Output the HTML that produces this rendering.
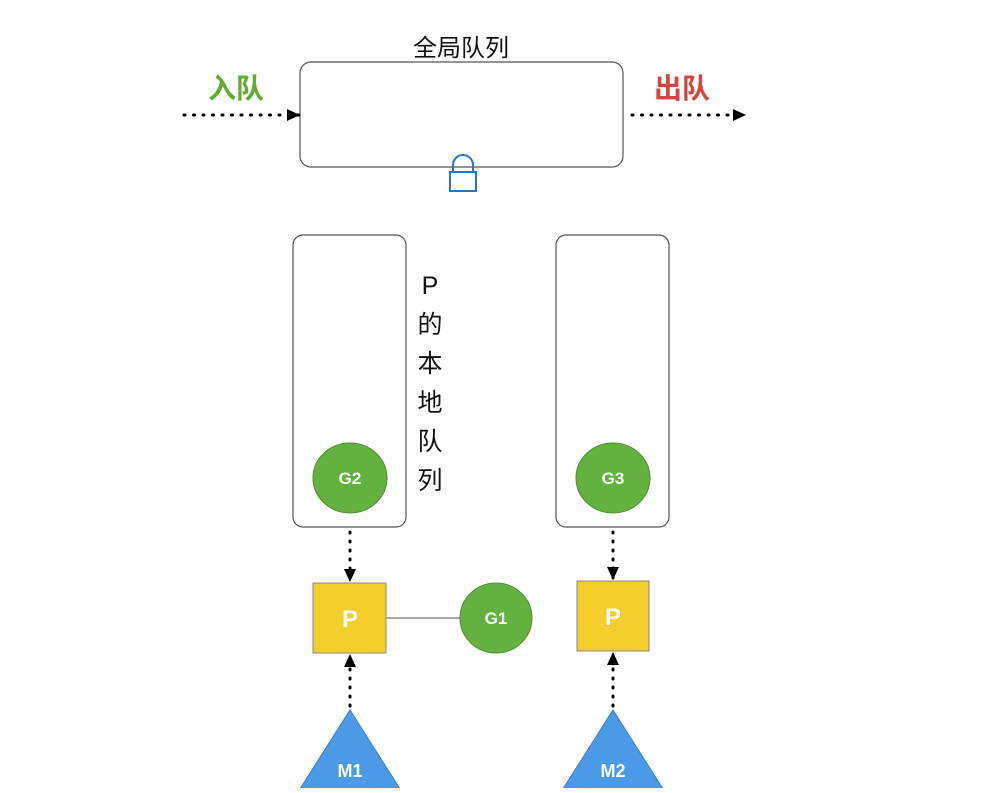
<!DOCTYPE html>
<html><head><meta charset="utf-8"><style>
body{margin:0;background:#fff;width:999px;height:788px;overflow:hidden}
svg text{font-family:"Liberation Sans","Noto Sans CJK SC",sans-serif}
</style></head><body>
<svg width="999" height="788" viewBox="0 0 999 788" xmlns="http://www.w3.org/2000/svg">
<defs>
<marker id="a" markerWidth="14" markerHeight="14" refX="12" refY="7" orient="auto" markerUnits="userSpaceOnUse"><path d="M0,1 L13,7 L0,13 z" fill="#000"/></marker>
</defs>
<text x="461" y="56" font-size="24" text-anchor="middle" fill="#111">全局队列</text>
<text x="236" y="98" font-size="28" font-weight="bold" text-anchor="middle" fill="#5fae2f">入队</text>
<text x="682" y="98" font-size="28" font-weight="bold" text-anchor="middle" fill="#d9433f">出队</text>
<rect x="300" y="62" width="323" height="105" rx="11" fill="#fff" stroke="#555" stroke-width="1.2"/>
<line x1="184" y1="115" x2="299" y2="115" stroke="#000" stroke-width="3" stroke-dasharray="1,8.5" stroke-linecap="round" marker-end="url(#a)"/>
<line x1="632" y1="115" x2="745" y2="115" stroke="#000" stroke-width="3" stroke-dasharray="1,8.5" stroke-linecap="round" marker-end="url(#a)"/>
<path d="M453,172 V165 A10,10 0 0 1 473,165 V172" fill="none" stroke="#1f77d0" stroke-width="2"/>
<rect x="450" y="172" width="26" height="19" fill="#fff" stroke="#1f77d0" stroke-width="2"/>
<rect x="293" y="235" width="113" height="292" rx="10" fill="#fff" stroke="#555" stroke-width="1.2"/>
<rect x="556" y="235" width="113" height="292" rx="10" fill="#fff" stroke="#555" stroke-width="1.2"/>
<g font-size="25" fill="#111" text-anchor="middle">
<text x="430" y="294">P</text><text x="430" y="333">的</text><text x="430" y="372">本</text><text x="430" y="411">地</text><text x="430" y="450">队</text><text x="430" y="489">列</text>
</g>
<ellipse cx="350" cy="478" rx="37" ry="35" fill="#63b23f" stroke="#4f8f33"/>
<ellipse cx="613" cy="478" rx="37" ry="35" fill="#63b23f" stroke="#4f8f33"/>
<ellipse cx="496" cy="618" rx="36" ry="35" fill="#63b23f" stroke="#4f8f33"/>
<g font-size="17" font-weight="bold" fill="#fff" text-anchor="middle">
<text x="350" y="484">G2</text><text x="613" y="484">G3</text><text x="496" y="624">G1</text>
</g>
<line x1="386" y1="618" x2="460" y2="618" stroke="#777" stroke-width="1.2"/>
<rect x="313" y="583" width="73" height="70" fill="#f4ce2a" stroke="#888"/>
<rect x="577" y="581" width="72" height="70" fill="#f4ce2a" stroke="#888"/>
<g font-size="24" font-weight="bold" fill="#fff" text-anchor="middle">
<text x="350" y="627">P</text><text x="613" y="625">P</text>
</g>
<line x1="350" y1="532" x2="350" y2="581" stroke="#000" stroke-width="3" stroke-dasharray="1,8" stroke-linecap="round" marker-end="url(#a)"/>
<line x1="613" y1="532" x2="613" y2="579" stroke="#000" stroke-width="3" stroke-dasharray="1,8" stroke-linecap="round" marker-end="url(#a)"/>
<line x1="350" y1="706" x2="350" y2="655" stroke="#000" stroke-width="3" stroke-dasharray="1,8" stroke-linecap="round" marker-end="url(#a)"/>
<line x1="613" y1="706" x2="613" y2="653" stroke="#000" stroke-width="3" stroke-dasharray="1,8" stroke-linecap="round" marker-end="url(#a)"/>
<path d="M350,710 L298,792 L402,792 z" fill="#4a9ae8" stroke="#3b7cc0"/>
<path d="M613,710 L561,792 L665,792 z" fill="#4a9ae8" stroke="#3b7cc0"/>
<g font-size="18" font-weight="bold" fill="#fff" text-anchor="middle">
<text x="350" y="777">M1</text><text x="613" y="777">M2</text>
</g>
</svg>
</body></html>
